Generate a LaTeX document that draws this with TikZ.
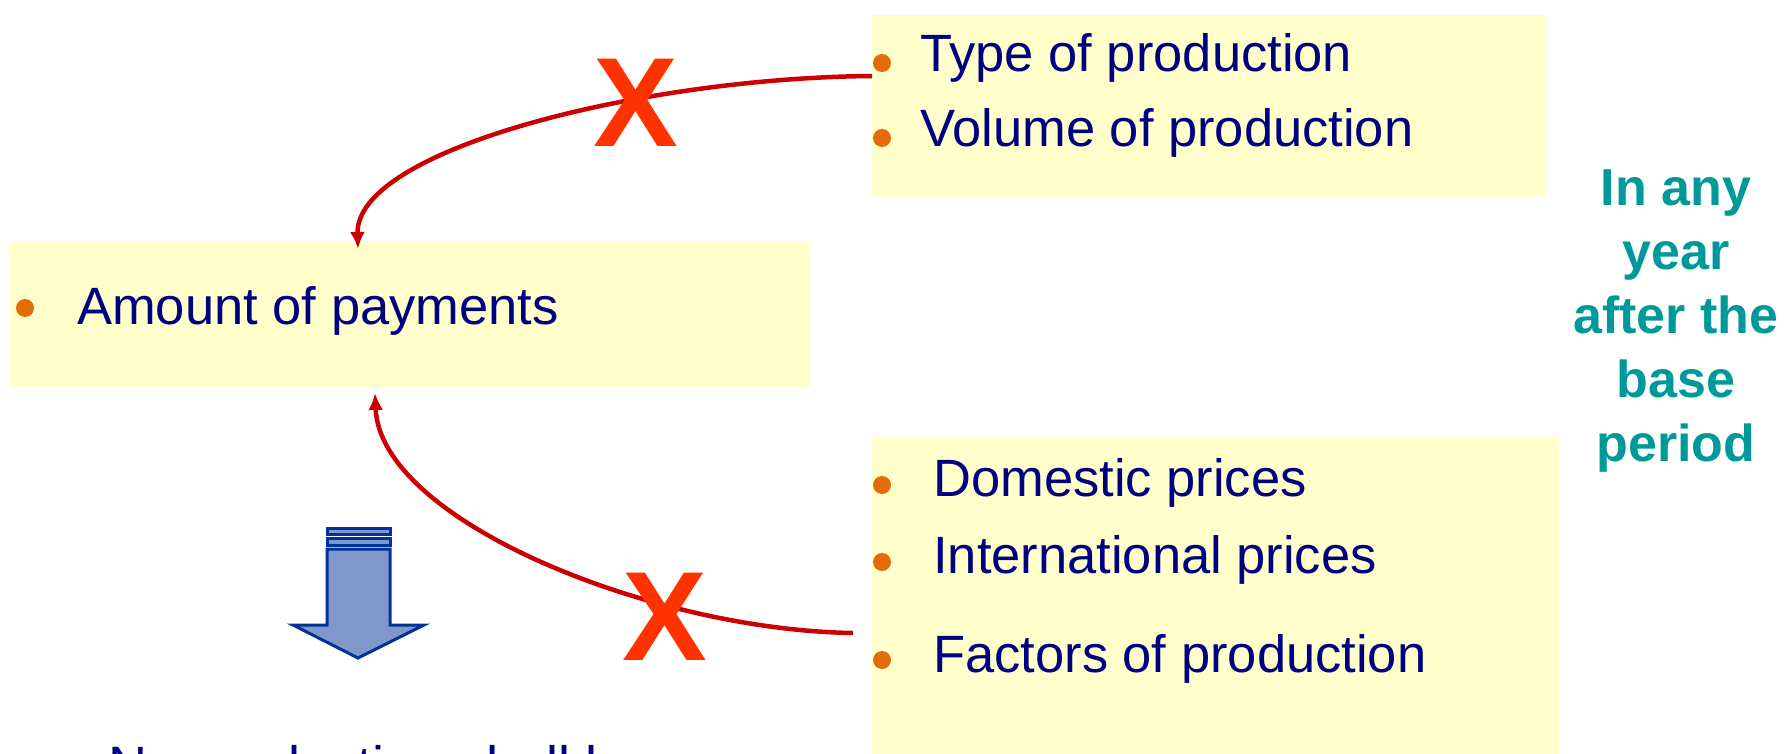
\documentclass[tikz,border=0pt]{standalone}
\usepackage{fontspec}
\setmainfont{Liberation Sans}
\usetikzlibrary{arrows.meta}
\definecolor{boxyellow}{RGB}{255,255,204}
\definecolor{textnavy}{RGB}{0,0,128}
\definecolor{dotorange}{RGB}{227,108,9}
\definecolor{noteteal}{RGB}{0,153,153}
\definecolor{linkred}{RGB}{204,0,0}
\definecolor{crossred}{RGB}{255,51,0}
\definecolor{arrowfill}{RGB}{128,151,204}
\definecolor{arrowline}{RGB}{0,51,153}
\tikzset{
  panel/.style={fill=boxyellow, inner sep=0pt, anchor=north west},
  item/.style={font=\fontsize{52.5}{62}\selectfont, text=textnavy, inner sep=0pt, anchor=base west},
  bulletdot/.style={circle, fill=dotorange, minimum size=18pt, inner sep=0pt},
  nomark/.style={font=\fontsize{127}{127}\selectfont\bfseries, text=crossred, inner sep=0pt},
  link/.style={linkred, line width=4.5pt, -{Latex[length=17pt,width=15pt]}}
}
\begin{document}
\begin{tikzpicture}[x=1pt, y=-1pt]
    \useasboundingbox (0,0) rectangle (1784,754);
    \clip (0,0) rectangle (1784,754);
    \node[panel, minimum width=800pt, minimum height=145pt] (pay) at (10,242) {};
    \node[panel, minimum width=673pt, minimum height=182pt] (prod) at (872,15) {};
    \node[panel, minimum width=687pt, minimum height=330pt] (price) at (872,438) {};
    \node[bulletdot] (b1) at (25,308) {};
    \node[item] (amount) at (77,324) {Amount of payments};
    \node[bulletdot] (b2) at (882,63) {};
    \node[item] (type) at (920,72) {Type of production};
    \node[bulletdot] (b3) at (882,138) {};
    \node[item] (volume) at (920,147) {Volume of production};
    \node[bulletdot] (b4) at (882,485) {};
    \node[item] (domestic) at (933,496) {Domestic prices};
    \node[bulletdot] (b5) at (882,562) {};
    \node[item] (intl) at (933,573) {International prices};
    \node[bulletdot] (b6) at (882,660) {};
    \node[item] (factors) at (933,672) {Factors of production};
    \node[font=\fontsize{52}{64}\selectfont\bfseries, text=noteteal, align=center, anchor=north, inner sep=0pt] (anyyear) at (1676,170) {In any\\year\\after the\\base\\period};
    \coordinate (prodout) at (872,76);
    \coordinate (payin) at (358,249);
    \coordinate (priceout) at (853,633);
    \coordinate (payback) at (375,393);
    \draw[link] (prodout) .. controls (640,78) and (355,150) .. (payin);
    \draw[link] (priceout) .. controls (650,630) and (380,520) .. (payback);
    \node[nomark] (xtop) at (636,103) {X};
    \node[nomark] (xbottom) at (665,617) {X};
    \draw[fill=arrowfill, draw=arrowline, line width=3pt] (327,528) rectangle (390,534);
    \draw[fill=arrowfill, draw=arrowline, line width=3pt] (327,538) rectangle (390,545);
    \draw[fill=arrowfill, draw=arrowline, line width=3pt, line join=miter] (327,549) -- (390,549) -- (390,625) -- (424,625) -- (358,658) -- (293,625) -- (327,625) -- cycle;
    \node[item, font=\fontsize{54}{64}\selectfont] (noprod) at (108,784) {No production shall be};
\end{tikzpicture}
\end{document}
